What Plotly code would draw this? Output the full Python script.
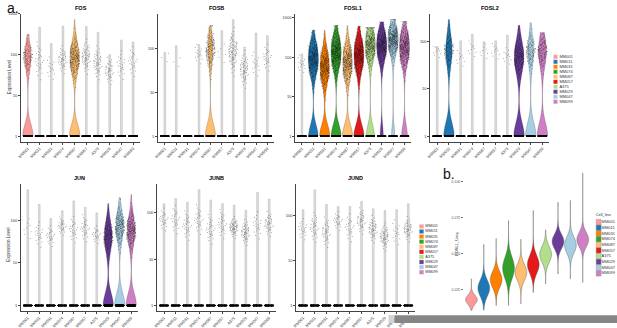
import plotly.graph_objects as go
from statistics import NormalDist

W, H = 617, 328

groups = ["MM001", "MM011", "MM031", "MM074", "MM087", "MM057", "A375", "MM029", "MM047", "MM099"]
colors = ["#FB9A99", "#1F78B4", "#FF7F00", "#33A02C", "#FDBF6F", "#E31A1C", "#B2DF8A", "#6A3D9A", "#A6CEE3", "#CF7FC3"]
genes = ["FOS", "FOSB", "FOSL1", "FOSL2", "JUN", "JUNB", "JUND"]
log_tick_vals = [0, 1, 2, 3]
log_tick_text = ["1", "10", "100", "1000"]

# log10 expression: top of each violin / line
top = {
    "FOS":   [2.50, 2.67, 2.27, 2.70, 2.86, 2.69, 2.55, 2.00, 2.36, 2.31],
    "FOSB":  [1.92, 2.07, 0.00, 2.10, 2.53, 2.42, 2.67, 2.04, 2.36, 2.30],
    "FOSL1": [2.08, 2.68, 2.68, 2.80, 2.80, 2.78, 2.74, 2.89, 2.95, 2.90],
    "FOSL2": [1.90, 2.47, 2.02, 2.16, 2.00, 2.02, 2.14, 2.35, 2.40, 2.19],
    "JUN":   [2.71, 2.37, 2.04, 2.22, 2.45, 2.30, 2.17, 2.39, 2.53, 2.60],
    "JUNB":  [2.20, 2.31, 2.23, 2.50, 2.28, 2.20, 2.17, 2.06, 2.44, 2.30],
    "JUND":  [2.12, 2.56, 2.24, 2.19, 2.19, 2.30, 2.14, 2.10, 2.12, 2.25],
}
# median log10 expression of expressing cells
med = {
    "FOS":   [1.95, 1.85, 1.67, 1.88, 1.92, 1.95, 1.80, 1.60, 1.74, 1.83],
    "FOSB":  [1.80, 1.70, 0.00, 1.88, 2.00, 1.90, 1.93, 1.53, 1.65, 1.80],
    "FOSL1": [1.83, 1.96, 1.75, 2.12, 1.87, 2.05, 2.30, 2.30, 2.45, 2.25],
    "FOSL2": [1.80, 1.82, 1.65, 1.85, 1.80, 1.80, 1.70, 1.68, 1.80, 1.80],
    "JUN":   [1.80, 1.66, 1.63, 1.86, 1.78, 1.81, 1.66, 1.62, 1.86, 1.76],
    "JUNB":  [1.86, 1.86, 1.73, 1.86, 1.65, 1.76, 1.69, 1.58, 1.73, 1.76],
    "JUND":  [1.69, 1.73, 1.62, 1.87, 1.72, 1.87, 1.69, 1.52, 1.62, 1.69],
}
# spread of expressing cells (log10 units)
spread = {
    "FOS":   [0.20, 0.22, 0.15, 0.15, 0.25, 0.18, 0.18, 0.15, 0.18, 0.18],
    "FOSB":  [0.10, 0.10, 0.00, 0.12, 0.25, 0.15, 0.22, 0.18, 0.15, 0.15],
    "FOSL1": [0.12, 0.28, 0.28, 0.28, 0.28, 0.28, 0.25, 0.25, 0.22, 0.28],
    "FOSL2": [0.08, 0.20, 0.10, 0.10, 0.10, 0.10, 0.10, 0.20, 0.18, 0.18],
    "JUN":   [0.15, 0.15, 0.12, 0.10, 0.15, 0.15, 0.10, 0.22, 0.22, 0.22],
    "JUNB":  [0.12, 0.15, 0.15, 0.15, 0.15, 0.15, 0.10, 0.12, 0.15, 0.12],
    "JUND":  [0.12, 0.15, 0.15, 0.10, 0.15, 0.13, 0.13, 0.13, 0.15, 0.12],
}
# number of expressing cells
n_expr = {
    "FOS":   [120, 30, 15, 45, 260, 60, 50, 40, 20, 25],
    "FOSB":  [3, 3, 0, 15, 200, 6, 90, 60, 15, 25],
    "FOSL1": [15, 400, 350, 400, 350, 400, 350, 400, 400, 400],
    "FOSL2": [10, 150, 10, 10, 8, 10, 12, 250, 120, 150],
    "JUN":   [8, 20, 25, 30, 25, 30, 25, 220, 220, 260],
    "JUNB":  [25, 25, 30, 30, 30, 30, 60, 50, 20, 40],
    "JUND":  [20, 35, 40, 25, 25, 40, 50, 60, 15, 50],
}
# number of cells at baseline (value 1)
n_zero = {
    "FOS":   [168, 120, 120, 120, 223, 120, 120, 120, 120, 120],
    "FOSB":  [120, 120, 120, 120, 365, 120, 120, 120, 120, 120],
    "FOSL1": [120, 263, 281, 277, 268, 292, 207, 92, 97, 160],
    "FOSL2": [120, 208, 120, 120, 120, 120, 120, 222, 186, 168],
    "JUN":   [120, 120, 120, 120, 120, 120, 120, 232, 250, 284],
    "JUNB":  [120] * 10,
    "JUND":  [120] * 10,
}
colored = {
    "FOS": ["MM001", "MM087"],
    "FOSB": ["MM087"],
    "FOSL1": ["MM011", "MM031", "MM074", "MM087", "MM057", "A375", "MM029", "MM047", "MM099"],
    "FOSL2": ["MM011", "MM029", "MM047", "MM099"],
    "JUN": ["MM029", "MM047", "MM099"],
    "JUNB": [],
    "JUND": [],
}

# panel b: FOSL1 score per cell line
b_med = [0.018, 0.026, 0.032, 0.040, 0.037, 0.0425, 0.0495, 0.0585, 0.056, 0.0598]
b_sd = [0.0030, 0.0053, 0.0053, 0.0070, 0.0053, 0.0058, 0.0053, 0.0047, 0.0053, 0.0047]
b_min = [0.0107, 0.0107, 0.014, 0.014, 0.015, 0.023, 0.029, 0.036, 0.0325, 0.030]
b_max = [0.0325, 0.0564, 0.0605, 0.073, 0.060, 0.080, 0.0666, 0.0857, 0.087, 0.106]
b_n = 200
b_ticks = [0.025, 0.050, 0.075, 0.100]
b_tick_text = ["0.025", "0.050", "0.075", "0.100"]

# ---------------- layout geometry (pixels) ----------------
panel_px = {
    "FOS":   (17, 137, 12, 143),
    "FOSB":  (155, 272, 12, 143),
    "FOSL1": (293, 410, 12, 143),
    "FOSL2": (429, 549, 12, 143),
    "JUN":   (17, 135, 186, 316),
    "JUNB":  (154, 274, 186, 316),
    "JUND":  (294, 414, 186, 316),
}
b_px = (463, 590, 172, 318)


def PX(px):
    return px / W


def PY(py):
    return 1 - py / H


def cluster(m, s, n, hi):
    if n <= 0 or s <= 0:
        return []
    nd = NormalDist(m, s)
    return [min(nd.inv_cdf((j + 0.5) / n), hi) for j in range(n)]


FONT = "Liberation Sans, Arial, sans-serif"
fig = go.Figure()
layout = dict(
    width=W, height=H, margin=dict(l=0, r=0, t=0, b=0),
    paper_bgcolor="white", plot_bgcolor="rgba(0,0,0,0)",
    showlegend=False, violinmode="overlay", boxmode="overlay",
    font=dict(family=FONT, color="#333"),
)
annotations = []
shapes = []

axis_common = dict(showgrid=False, zeroline=False, showline=True, linecolor="#444",
                   linewidth=0.7, ticks="outside", ticklen=2, tickwidth=0.6,
                   tickcolor="#444", fixedrange=True)

for k, g in enumerate(genes):
    ax = k + 1
    xa = "x" if ax == 1 else f"x{ax}"
    ya = "y" if ax == 1 else f"y{ax}"
    x0, x1, y0, y1 = panel_px[g]
    M = max(top[g])
    for i, grp in enumerate(groups):
        vals = cluster(med[g][i], spread[g][i], n_expr[g][i], top[g][i])
        if grp in colored[g]:
            fig.add_trace(go.Violin(
                x0=i, y=[0.0] * n_zero[g][i] + vals + [top[g][i]],
                width=0.9, scalemode="width", spanmode="hard", bandwidth=0.28,
                points=False, fillcolor=colors[i], opacity=1,
                line=dict(color="rgba(0,0,0,0.45)", width=0.4),
                hoverinfo="skip", xaxis=xa, yaxis=ya))
        elif top[g][i] > 0:
            fig.add_trace(go.Violin(
                x0=i, y=[0.0, top[g][i]], width=0.15, scalemode="width",
                spanmode="hard", bandwidth=50, points=False,
                fillcolor="#dedede", line=dict(color="#aaaaaa", width=0.4),
                hoverinfo="skip", xaxis=xa, yaxis=ya))
        # baseline cells
        fig.add_trace(go.Box(
            x0=i, y=[0.0] * n_zero[g][i], boxpoints="all", jitter=0.9, pointpos=0,
            width=0.8, fillcolor="rgba(0,0,0,0)", line=dict(width=0, color="rgba(0,0,0,0)"),
            marker=dict(size=1.4, color="rgba(0,0,0,0.9)"),
            hoverinfo="skip", xaxis=xa, yaxis=ya))
        if vals:
            fig.add_trace(go.Box(
                x0=i, y=vals, boxpoints="all", jitter=1, pointpos=0,
                width=0.8, fillcolor="rgba(0,0,0,0)", line=dict(width=0, color="rgba(0,0,0,0)"),
                marker=dict(size=1.0, color="rgba(20,20,20,0.45)"),
                hoverinfo="skip", xaxis=xa, yaxis=ya))
    tv = [v for v in log_tick_vals if v <= 1.05 * M]
    layout["xaxis" if ax == 1 else f"xaxis{ax}"] = dict(
        axis_common, domain=[PX(x0), PX(x1)], anchor=ya, range=[-0.6, 9.6],
        tickvals=list(range(len(groups))), ticktext=groups, tickangle=-45,
        tickfont=dict(size=4, family=FONT, color="#333"))
    layout["yaxis" if ax == 1 else f"yaxis{ax}"] = dict(
        axis_common, domain=[PY(y1), PY(y0)], anchor=xa, range=[-0.05 * M, 1.05 * M],
        tickvals=tv, ticktext=log_tick_text[:len(tv)],
        tickfont=dict(size=4, family=FONT, color="#333"))
    annotations.append(dict(x=PX((x0 + x1) / 2), y=PY(y0 - 6), xref="paper", yref="paper",
                            text=f"<b>{g}</b>", showarrow=False, xanchor="center", yanchor="middle",
                            font=dict(size=5.5, family=FONT, color="#000")))

# y axis titles
for yy in (77, 248):
    annotations.append(dict(x=PX(5), y=PY(yy), xref="paper", yref="paper", text="Expression Level",
                            textangle=-90, showarrow=False, xanchor="center", yanchor="middle",
                            font=dict(size=4.5, family=FONT, color="#333")))

# panel b
for i, grp in enumerate(groups):
    vals = [min(max(v, b_min[i]), b_max[i]) for v in cluster(b_med[i], b_sd[i], b_n, b_max[i])]
    fig.add_trace(go.Violin(
        x0=i, y=vals + [b_min[i], b_max[i]], width=0.95, scalemode="width", scalegroup="b",
        spanmode="hard", points=False, fillcolor=colors[i],
        line=dict(color="rgba(90,90,90,0.8)", width=0.5),
        hoverinfo="skip", xaxis="x8", yaxis="y8"))
layout["xaxis8"] = dict(showgrid=False, zeroline=False, showline=False, showticklabels=False,
                        ticks="", domain=[PX(b_px[0]), PX(b_px[1])], anchor="y8",
                        range=[-0.6, 9.6], fixedrange=True)
layout["yaxis8"] = dict(showgrid=False, zeroline=False, showline=False, ticks="outside",
                        ticklen=2, tickwidth=0.5, tickcolor="#777",
                        domain=[PY(b_px[3]), PY(b_px[2])], anchor="x8",
                        range=[0.0086, 0.108], tickvals=b_ticks, ticktext=b_tick_text,
                        tickfont=dict(size=3.5, family=FONT, color="#555"), fixedrange=True)
annotations.append(dict(x=PX(456), y=PY(248), xref="paper", yref="paper", text="FOSL1_Uniq",
                        textangle=-90, showarrow=False, xanchor="center", yanchor="middle",
                        font=dict(size=4, family=FONT, color="#333")))

# panel letters
annotations.append(dict(x=PX(1), y=PY(6.5), xref="paper", yref="paper", text="a.", showarrow=False,
                        xanchor="left", yanchor="middle", font=dict(size=14, family=FONT, color="#111")))
annotations.append(dict(x=PX(440), y=PY(176), xref="paper", yref="paper", text="b.", showarrow=False,
                        xanchor="left", yanchor="middle", font=dict(size=14, family=FONT, color="#111")))

# overlay axis in pixel units for legend labels
layout["xaxis9"] = dict(domain=[0, 1], range=[0, W], visible=False, fixedrange=True, anchor="y9")
layout["yaxis9"] = dict(domain=[0, 1], range=[H, 0], visible=False, fixedrange=True, anchor="x9")


# legends
def legend(xs, ytop, step, sw, sh, tx, size, border):
    for i, grp in enumerate(groups):
        yc = ytop + i * step
        shapes.append(dict(type="rect", xref="paper", yref="paper",
                           x0=PX(xs), x1=PX(xs + sw), y0=PY(yc + sh / 2), y1=PY(yc - sh / 2),
                           fillcolor=colors[i], line=dict(color=border, width=0.4)))
    fig.add_trace(go.Scatter(
        x=[tx] * len(groups), y=[ytop + i * step for i in range(len(groups))],
        mode="text", text=groups, textposition="middle right",
        textfont=dict(size=size, family=FONT, color="#333"),
        hoverinfo="skip", cliponaxis=False, xaxis="x9", yaxis="y9"))


legend(553, 56, 5.1, 4.2, 4.2, 559, 4, "rgba(255,255,255,0.6)")
legend(418, 229.3, 5.2, 4.5, 4.3, 424, 3.8, "rgba(255,255,255,0.6)")
legend(596, 225, 5.8, 5, 5.8, 601.5, 4, "#999")
fig.add_trace(go.Scatter(x=[595.5], y=[217.7], mode="text", text=["Cell_line"],
                         textposition="middle right",
                         textfont=dict(size=4, family=FONT, color="#333"),
                         hoverinfo="skip", cliponaxis=False, xaxis="x9", yaxis="y9"))

# bottom bar
shapes.append(dict(type="rect", xref="paper", yref="paper", x0=PX(387), x1=PX(393),
                   y0=PY(328), y1=PY(320), fillcolor="#d2d2d2", line=dict(width=0), layer="above"))
shapes.append(dict(type="rect", xref="paper", yref="paper", x0=PX(393), x1=PX(617),
                   y0=PY(328), y1=PY(320), fillcolor="#868686", line=dict(width=0), layer="above"))

layout["annotations"] = annotations
layout["shapes"] = shapes
fig.update_layout(**layout)
fig.write_html("out.html", config={"displayModeBar": False},
               post_script="document.body.style.margin='0';document.body.style.padding='0';"
                           "document.body.style.overflow='hidden';")
